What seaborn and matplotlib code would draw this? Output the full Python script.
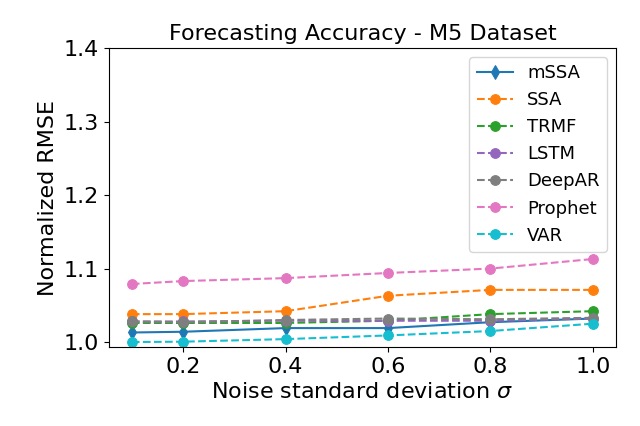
import matplotlib
matplotlib.use("Agg")
import matplotlib.pyplot as plt
import seaborn as sns
import pandas as pd

sigma = [0.1, 0.2, 0.4, 0.6, 0.8, 1.0]
mssa = [1.013, 1.014, 1.019, 1.019, 1.027, 1.032]
ssa = [1.038, 1.038, 1.042, 1.063, 1.071, 1.071]
trmf = [1.026, 1.026, 1.026, 1.029, 1.038, 1.042]
lstm = [1.028, 1.028, 1.029, 1.029, 1.029, 1.032]
deepar = [1.028, 1.027, 1.030, 1.032, 1.031, 1.033]
prophet = [1.079, 1.083, 1.087, 1.094, 1.100, 1.113]
var = [1.000, 1.0005, 1.004, 1.009, 1.015, 1.025]

series = [("mSSA", mssa), ("SSA", ssa), ("TRMF", trmf), ("LSTM", lstm),
          ("DeepAR", deepar), ("Prophet", prophet), ("VAR", var)]

plt.rcParams['font.family'] = ['DejaVu Sans']
fig, ax = plt.subplots(figsize=(6.4, 4.26), dpi=100)
palette = sns.color_palette("tab10")
colors = [palette[0], palette[1], palette[2], palette[4], palette[7], palette[6], palette[9]]

for (name, vals), c in zip(series, colors):
    df = pd.DataFrame({"sigma": sigma, "rmse": vals})
    if name == "mSSA":
        sns.lineplot(data=df, x="sigma", y="rmse", ax=ax, color=c, marker="d",
                     markersize=7, linestyle="-", label=name, markeredgecolor=c)
    else:
        sns.lineplot(data=df, x="sigma", y="rmse", ax=ax, color=c, marker="o",
                     markersize=7, linestyle="--", label=name, markeredgecolor=c)

ax.set_ylim(0.993, 1.4)
ax.set_yticks([1.0, 1.1, 1.2, 1.3, 1.4])
ax.set_xticks([0.2, 0.4, 0.6, 0.8, 1.0])
ax.tick_params(labelsize=16)
ax.set_xlabel(r"Noise standard deviation $\sigma$", fontsize=16)
ax.set_ylabel("Normalized RMSE", fontsize=16)
ax.set_title("Forecasting Accuracy - M5 Dataset", fontsize=16)
ax.legend(loc="upper right", fontsize=13)
fig.subplots_adjust(left=0.17, right=0.9625, top=0.887, bottom=0.185)
fig.savefig("out.png", dpi=100)
